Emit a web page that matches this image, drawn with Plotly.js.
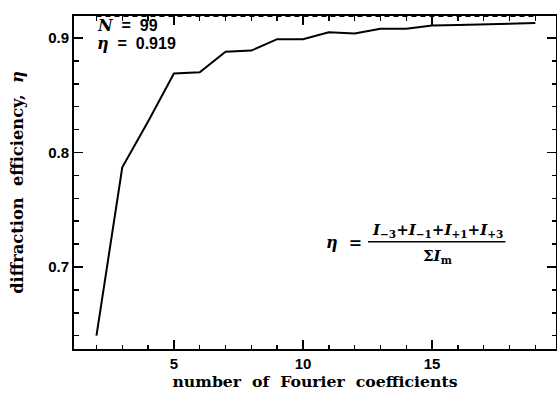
<!DOCTYPE html>
<html><head><meta charset="utf-8">
<script src="https://cdn.plot.ly/plotly-3.0.1.min.js"></script>
<style>html,body{margin:0;padding:0;background:#fff}#c{width:557px;height:393px}</style>
</head><body><div id="c"></div>
<script>
const nCoeff = [2,3,4,5,6,7,8,9,10,11,12,13,14,15,16,17,18,19];
const efficiency = [0.640,0.787,0.827,0.869,0.870,0.888,0.889,0.899,0.899,0.905,0.904,0.908,0.908,0.911,0.9114,0.912,0.9125,0.913];
const limitX = [2,19];
const limitY = [0.919,0.919];

const serif = '"DejaVu Serif", serif';
const sans = '"Liberation Sans", Arial, sans-serif';
const sp = '\u00a0';

const traces = [
  {x: nCoeff, y: efficiency, mode:'lines', line:{color:'#000', width:2}, hoverinfo:'skip'},
  {x: limitX, y: limitY, mode:'lines', line:{color:'#000', width:1.3, dash:'5px,4px'}, hoverinfo:'skip'}
];

const axisCommon = {
  showgrid:false, zeroline:false, showline:true, linecolor:'#000', linewidth:2,
  mirror:'allticks', ticks:'inside', ticklen:9, tickwidth:1.5, tickcolor:'#000',
  tickfont:{family:sans, size:15, color:'#000', weight:'bold'}
};

const layout = {
  width:557, height:393,
  margin:{l:74, r:1, t:16, b:44},
  paper_bgcolor:'#fff', plot_bgcolor:'#fff',
  showlegend:false,
  xaxis: Object.assign({}, axisCommon, {
    range:[1.13,19.8], dtick:5, tick0:0,
    minor:{dtick:1, ticks:'inside', ticklen:4.5, tickwidth:1.5, tickcolor:'#000', showgrid:false},
    title:{text:'number'+sp+' of'+sp+' Fourier'+sp+' coefficients', standoff:3, font:{family:serif, size:15.7, color:'#000', weight:'bold'}}
  }),
  yaxis: Object.assign({}, axisCommon, {
    range:[0.6284,0.9192], dtick:0.1, tick0:0, tickformat:'.1f',
    minor:{dtick:0.02, ticks:'inside', ticklen:4.5, tickwidth:1.5, tickcolor:'#000', showgrid:false},
    title:{text:'diffraction'+sp+' efficiency,'+sp+' <i>η</i>', standoff:20, font:{family:serif, size:16.3, color:'#000', weight:'bold'}}
  }),
  annotations:[
    {xref:'paper', yref:'paper', x:0.043, y:0.9725, xanchor:'left', yanchor:'middle', showarrow:false,
     text:'<span style="font-family:DejaVu Serif"><i>N</i></span>'+sp+' ='+sp+' 99', font:{family:sans, size:16, color:'#000', weight:'bold'}},
    {xref:'paper', yref:'paper', x:0.043, y:0.917, xanchor:'left', yanchor:'middle', showarrow:false,
     text:'<span style="font-family:DejaVu Serif"><i>η</i></span>'+sp+' ='+sp+' 0.919', font:{family:sans, size:16, color:'#000', weight:'bold'}},
    {xref:'paper', yref:'paper', x:0.601, y:0.32, xanchor:'right', yanchor:'middle', showarrow:false,
     text:'<i>η</i>'+sp+' =', font:{family:serif, size:16, color:'#000', weight:'bold'}},
    {xref:'paper', yref:'paper', x:0.755, y:0.357, xanchor:'center', yanchor:'middle', showarrow:false,
     text:'<i>I</i><sub>−3</sub>+<i>I</i><sub>−1</sub>+<i>I</i><sub>+1</sub>+<i>I</i><sub>+3</sub>', font:{family:serif, size:15, color:'#000', weight:'bold'}},
    {xref:'paper', yref:'paper', x:0.755, y:0.279, xanchor:'center', yanchor:'middle', showarrow:false,
     text:'Σ<i>I</i><sub>m</sub>', font:{family:serif, size:15, color:'#000', weight:'bold'}}
  ],
  shapes:[
    {type:'line', xref:'paper', yref:'paper', x0:0.61, x1:0.895, y0:0.322, y1:0.322, line:{color:'#000', width:1.5}}
  ]
};

Plotly.newPlot('c', traces, layout, {staticPlot:true, displayModeBar:false});
</script>
</body></html>
